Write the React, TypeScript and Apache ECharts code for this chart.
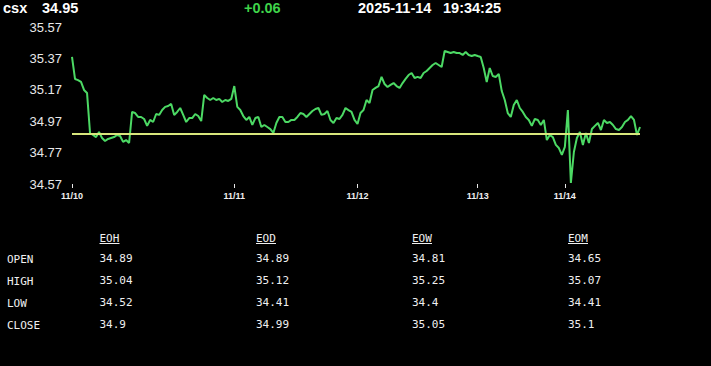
import React, { useEffect, useRef } from "react";
import * as echarts from "echarts";

const symbol = "csx";
const lastPrice = "34.95";
const change = "+0.06";
const dateText = "2025-11-14";
const timeText = "19:34:25";

const prices: number[] = [
  35.379, 35.239, 35.232, 35.22, 35.169, 35.15, 34.895, 34.882, 34.869, 34.901,
  34.863, 34.844, 34.857, 34.863, 34.869, 34.882, 34.876, 34.838, 34.85, 34.831,
  35.029, 35.022, 34.997, 34.997, 34.984, 34.94, 34.978, 34.965, 35.016, 35.01,
  35.041, 35.061, 35.067, 35.08, 35.01, 35.029, 35.054, 35.01, 34.965, 34.99,
  34.99, 35.016, 35.003, 34.971, 35.137, 35.118, 35.105, 35.118, 35.105, 35.112,
  35.092, 35.105, 35.099, 35.112, 35.194, 35.061, 35.041, 35.003, 34.978, 34.997,
  34.946, 34.99, 34.997, 34.933, 34.946, 34.933, 34.92, 34.895, 34.959, 34.997,
  34.997, 34.965, 34.965, 34.978, 34.978, 34.997, 35.022, 35.016, 34.997, 35.016,
  35.035, 35.048, 35.054, 35.01, 35.016, 35.035, 34.978, 34.959, 34.99, 34.984,
  35.01, 35.054, 35.041, 35.029, 34.978, 34.952, 35.022, 35.041, 35.105, 35.086,
  35.169, 35.182, 35.194, 35.252, 35.207, 35.188, 35.201, 35.213, 35.194, 35.182,
  35.213, 35.239, 35.264, 35.277, 35.245, 35.252, 35.245, 35.277, 35.29, 35.309,
  35.328, 35.341, 35.328, 35.315, 35.417, 35.411, 35.404, 35.411, 35.404, 35.404,
  35.392, 35.411, 35.392, 35.385, 35.392, 35.385, 35.379, 35.309, 35.22, 35.309,
  35.258, 35.252, 35.271, 35.162, 35.105, 35.022, 34.997, 35.073, 35.105, 35.054,
  35.029, 34.997, 34.978, 34.94, 34.984, 34.978, 34.946, 34.978, 34.85, 34.882,
  34.869, 34.819, 34.799, 34.755, 34.806, 35.041, 34.577, 34.774, 34.863, 34.901,
  34.819, 34.895, 34.831, 34.92, 34.94, 34.959, 34.914, 34.978, 34.959, 34.965,
  34.946, 34.92, 34.914, 34.933, 34.965, 34.978, 35.003, 34.978, 34.882, 34.933,
];

const categories: string[] = prices.map((_, i) => String(i));

const dayTickIndex: number[] = [0, 54, 95, 135, 164];
const dayTickLabels: string[] = ["11/10", "11/11", "11/12", "11/13", "11/14"];

const yTicks: number[] = [34.57, 34.77, 34.97, 35.17, 35.37, 35.57];
const refLine = 34.89;

const periods: string[] = ["EOH", "EOD", "EOW", "EOM"];
const rowLabels: string[] = ["OPEN", "HIGH", "LOW", "CLOSE"];
const eoh: number[] = [34.89, 35.04, 34.52, 34.9];
const eod: number[] = [34.89, 35.12, 34.41, 34.99];
const eow: number[] = [34.81, 35.25, 34.4, 35.05];
const eom: number[] = [34.65, 35.07, 34.41, 35.1];

export default function App() {
  const ref = useRef<HTMLDivElement>(null);

  useEffect(() => {
    document.body.style.margin = "0";
    document.body.style.background = "#000";
    if (!ref.current) return;
    const chart = echarts.init(ref.current, undefined, { renderer: "svg" });

    const headFont = 'bold 14.5px "Liberation Sans", Arial, sans-serif';
    const monoFont = '11px "DejaVu Sans Mono", "Liberation Mono", monospace';
    const cols = [eoh, eod, eow, eom];
    const colX = [99.5, 256, 412, 568];
    const rowY = [258, 280, 302, 324];

    const graphics: any[] = [
      { type: "text", style: { text: symbol, x: 3, y: 8, fill: "#ffffff", font: headFont, textVerticalAlign: "middle" } },
      { type: "text", style: { text: lastPrice, x: 42, y: 8, fill: "#ffffff", font: headFont, textVerticalAlign: "middle" } },
      { type: "text", style: { text: change, x: 244, y: 8, fill: "#3fd34a", font: headFont, textVerticalAlign: "middle" } },
      { type: "text", style: { text: dateText, x: 358, y: 8, fill: "#ffffff", font: headFont, textVerticalAlign: "middle" } },
      { type: "text", style: { text: timeText, x: 443, y: 8, fill: "#ffffff", font: headFont, textVerticalAlign: "middle" } },
    ];

    periods.forEach((p, c) => {
      graphics.push({
        type: "text",
        style: { text: p, x: colX[c], y: 238, fill: "#f0f0f0", font: monoFont, textVerticalAlign: "middle" },
      });
      graphics.push({
        type: "line",
        shape: { x1: colX[c], y1: 243.5, x2: colX[c] + 20, y2: 243.5 },
        style: { stroke: "#f0f0f0", lineWidth: 1 },
      });
      cols[c].forEach((v, r) => {
        graphics.push({
          type: "text",
          style: { text: String(v), x: colX[c], y: rowY[r], fill: "#f0f0f0", font: monoFont, textVerticalAlign: "middle" },
        });
      });
    });
    rowLabels.forEach((l, r) => {
      graphics.push({
        type: "text",
        style: { text: l, x: 7, y: rowY[r] + 1.5, fill: "#f0f0f0", font: monoFont, textVerticalAlign: "middle" },
      });
    });

    chart.setOption({
      animation: false,
      backgroundColor: "#000000",
      grid: { left: 72, right: 71, top: 27, bottom: 182, containLabel: false },
      xAxis: {
        type: "category",
        data: categories,
        boundaryGap: false,
        axisLine: { show: false },
        axisTick: {
          show: true,
          length: 4,
          interval: (i: number) => dayTickIndex.includes(i),
          lineStyle: { color: "#e8e8e8", width: 1 },
        },
        axisLabel: {
          interval: (i: number) => dayTickIndex.includes(i),
          formatter: (_v: string, i: number) => {
            const k = dayTickIndex.indexOf(i);
            return k >= 0 ? dayTickLabels[k] : "";
          },
          color: "#f0f0f0",
          fontSize: 9,
          fontWeight: "bold",
          fontFamily: '"Liberation Sans", Arial, sans-serif',
          margin: 7,
        },
        splitLine: { show: false },
      },
      yAxis: {
        type: "value",
        min: yTicks[0],
        max: yTicks[yTicks.length - 1],
        axisLine: { show: false },
        axisTick: { show: false },
        splitLine: { show: false },
        axisLabel: {
          customValues: yTicks,
          formatter: (v: number) => v.toFixed(2),
          color: "#e8e8e8",
          fontSize: 13,
          fontFamily: '"Liberation Sans", Arial, sans-serif',
          margin: 10,
        },
      },
      series: [
        {
          type: "line",
          data: prices,
          showSymbol: false,
          symbol: "none",
          lineStyle: { color: "#4cd964", width: 2 },
          itemStyle: { color: "#4cd964" },
          markLine: {
            silent: true,
            symbol: "none",
            label: { show: false },
            lineStyle: { color: "#d8e67c", width: 2, type: "solid" },
            data: [{ yAxis: refLine }],
          },
          z: 2,
        },
      ],
      graphic: graphics,
    });

    return () => chart.dispose();
  }, []);

  return (
    <div
      ref={ref}
      style={{ position: "fixed", left: 0, top: 0, width: 711, height: 366, background: "#000" }}
    />
  );
}
